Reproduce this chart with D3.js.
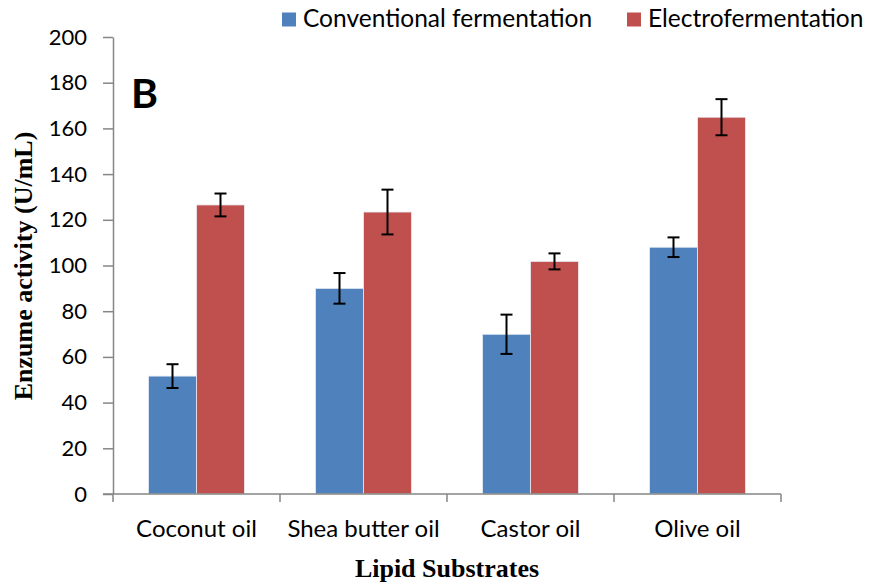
<!DOCTYPE html>
<html><head><meta charset="utf-8">
<script src="https://cdn.jsdelivr.net/npm/d3@7"></script>
<style>body{margin:0;background:#fff}svg{display:block}</style>
</head><body>
<svg id="c" width="871" height="588"></svg>
<script>
const categories = ["Coconut oil", "Shea butter oil", "Castor oil", "Olive oil"];
const seriesNames = ["Conventional fermentation", "Electrofermentation"];
const conventional = [51.6, 90.0, 69.9, 108.0];
const conventionalErr = [5.2, 6.7, 8.6, 4.3];
const electro = [126.5, 123.4, 101.8, 164.9];
const electroErr = [5.0, 9.8, 3.5, 7.9];
const yTicks = [0, 20, 40, 60, 80, 100, 120, 140, 160, 180, 200];
const colors = ["#4F81BD", "#C0504D"];

(function () {
const svg = d3.select("#c");
const mLeft = 113, mRight = 781, mTop = 37, mBottom = 494;
const font = "Lato, 'Open Sans', sans-serif";
const serif = "'Liberation Serif', 'Times New Roman', serif";

const y = d3.scaleLinear().domain([0, 200]).range([mBottom, mTop]);
const x0 = d3.scaleBand().domain(categories).range([mLeft, mRight]).padding(0);
const x1 = d3.scaleBand().domain(seriesNames).range([0, x0.bandwidth()]).paddingInner(0).paddingOuter(0.74);

const data = categories.map((c, i) => ({
  cat: c,
  vals: [
    {s: seriesNames[0], v: conventional[i], e: conventionalErr[i], col: colors[0]},
    {s: seriesNames[1], v: electro[i], e: electroErr[i], col: colors[1]}
  ]
}));

// bars
const g = svg.append("g");
const grp = g.selectAll("g.grp").data(data).join("g")
  .attr("transform", d => `translate(${x0(d.cat)},0)`);
grp.selectAll("rect").data(d => d.vals).join("rect")
  .attr("x", d => x1(d.s))
  .attr("y", d => y(d.v))
  .attr("width", x1.bandwidth())
  .attr("height", d => y(0) - y(d.v))
  .attr("fill", d => d.col)
  .attr("stroke", "#e8ecf3").attr("stroke-width", 0.8);

// error bars
const eb = grp.selectAll("g.err").data(d => d.vals).join("g")
  .attr("stroke", "#000").attr("stroke-width", 2);
const cx = d => x1(d.s) + x1.bandwidth() / 2;
eb.append("line")
  .attr("x1", cx).attr("x2", cx)
  .attr("y1", d => y(d.v + d.e)).attr("y2", d => y(d.v - d.e));
eb.append("line")
  .attr("x1", d => cx(d) - 6).attr("x2", d => cx(d) + 6)
  .attr("y1", d => y(d.v + d.e)).attr("y2", d => y(d.v + d.e));
eb.append("line")
  .attr("x1", d => cx(d) - 6).attr("x2", d => cx(d) + 6)
  .attr("y1", d => y(d.v - d.e)).attr("y2", d => y(d.v - d.e));

// y axis
const yAxis = svg.append("g").attr("transform", `translate(${mLeft},0)`)
  .call(d3.axisLeft(y).tickValues(yTicks).tickSize(10).tickSizeOuter(0).tickPadding(16));
yAxis.select(".domain").attr("stroke", "#868686").attr("stroke-width", 1.5);
yAxis.selectAll(".tick line").attr("stroke", "#868686").attr("stroke-width", 1.5);
yAxis.selectAll("text").attr("font-family", font).attr("font-size", 22).attr("fill", "#000");

// x axis
const xAxisG = svg.append("g").attr("transform", `translate(0,${mBottom})`);
xAxisG.append("line").attr("x1", mLeft - 10).attr("x2", mRight).attr("y1", 0).attr("y2", 0)
  .attr("stroke", "#868686").attr("stroke-width", 1.5);
const bounds = categories.map(c => x0(c)).concat([mRight]);
xAxisG.selectAll("line.t").data(bounds).join("line").attr("class", "t")
  .attr("x1", d => d).attr("x2", d => d).attr("y1", 0).attr("y2", 8)
  .attr("stroke", "#868686").attr("stroke-width", 1.5);
xAxisG.selectAll("text").data(categories).join("text")
  .attr("x", d => x0(d) + x0.bandwidth() / 2).attr("y", 43)
  .attr("text-anchor", "middle").attr("font-family", font).attr("font-size", 24).attr("fill", "#000")
  .text(d => d);

// axis titles
svg.append("text").attr("x", 447).attr("y", 577).attr("text-anchor", "middle")
  .attr("font-family", serif).attr("font-weight", "bold")
  .attr("font-size", 26).text("Lipid Substrates");
svg.append("text").attr("transform", "translate(32,266) rotate(-90)").attr("text-anchor", "middle")
  .attr("font-family", serif).attr("font-weight", "bold")
  .attr("font-size", 26).text("Enzume activity (U/mL)");

// panel label
svg.append("text").attr("x", 131).attr("y", 108).attr("font-family", font)
  .attr("font-weight", "bold").attr("font-size", 41).text("B");

// legend
const legX = [282, 627];
const leg = svg.selectAll("g.leg").data(seriesNames).join("g")
  .attr("transform", (d, i) => `translate(${legX[i]},12.5)`);
leg.append("rect").attr("width", 14).attr("height", 14).attr("y", 0).attr("fill", (d, i) => colors[i]);
leg.append("text").attr("x", 21).attr("y", 14.5).attr("font-family", font).attr("font-size", 24.5)
  .attr("fill", "#000").text(d => d);
})();
</script>
</body></html>
